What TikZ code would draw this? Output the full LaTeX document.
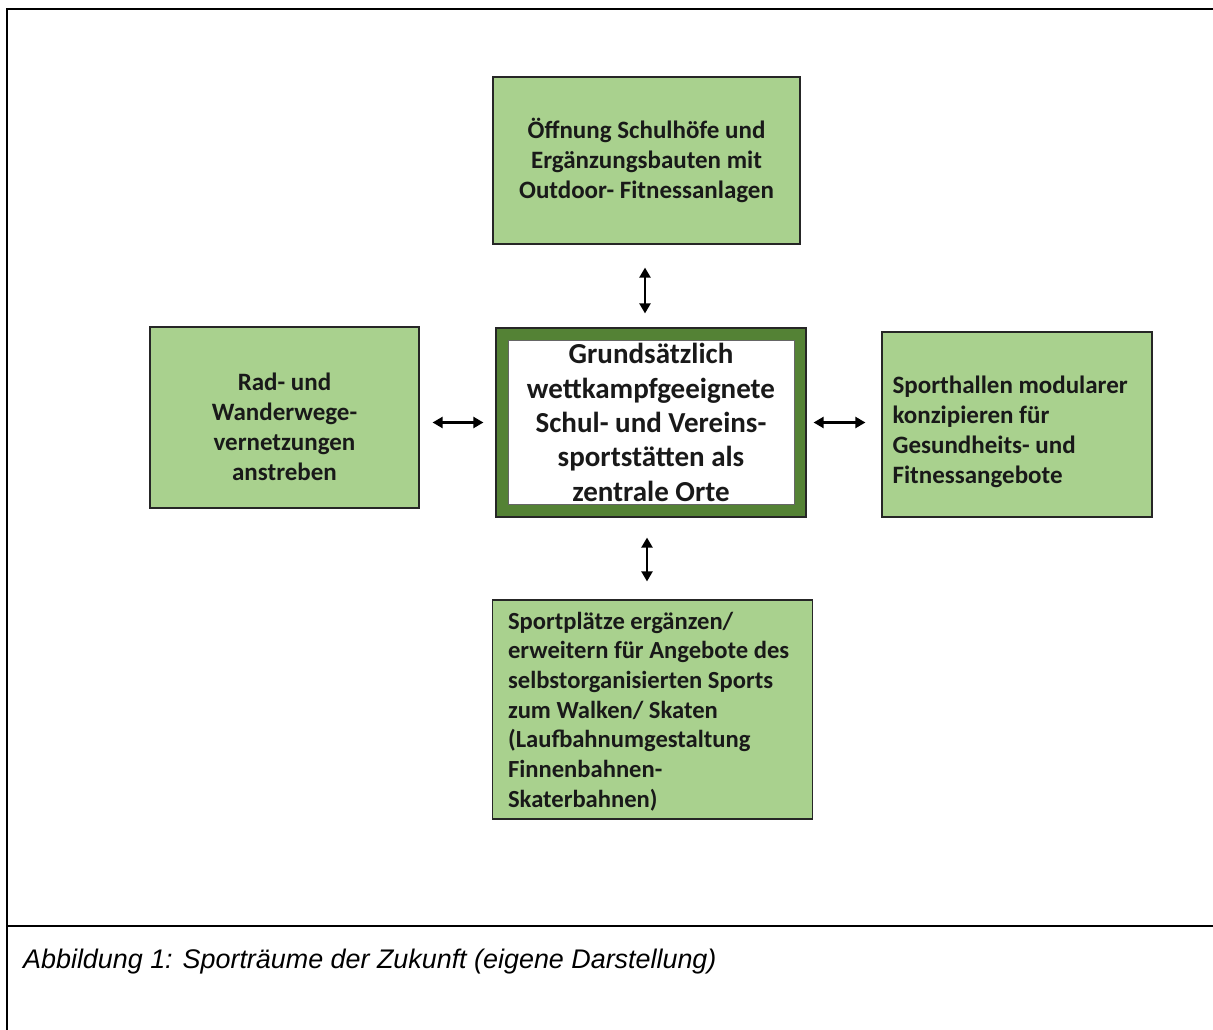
\documentclass[tikz,border=0pt]{standalone}
\usepackage{fontspec}
\setmainfont{Carlito}
\newfontfamily\arialfont{Liberation Sans}
\usetikzlibrary{arrows.meta,calc}
\definecolor{boxgreen}{HTML}{A9D18E}
\definecolor{darkgreen}{HTML}{548235}
\begin{document}
\begin{tikzpicture}[x=1pt,y=-1pt,
  gbox/.style={draw=black!85, line width=1.2pt, fill=boxgreen, inner sep=0pt,
    font=\bfseries\fontsize{25}{30}\selectfont, text=black!90},
  gtext/.style={inner sep=0pt, font=\bfseries\fontsize{25}{30}\selectfont, text=black!90},
  arr/.style={{Triangle[length=10pt,width=11pt]}-{Triangle[length=10pt,width=11pt]}, line width=2.2pt},
  frame/.style={line width=2.6pt, line cap=rect}]
\useasboundingbox (0,0) rectangle (1213,1030);
% frame
\draw[frame] (1213,9) -- (7,9) -- (7,1030);
\draw[frame] (7,926) -- (1213,926);
% boxes
\node[gbox, minimum width=307, minimum height=167, align=center] (top) at (646.5,160.5)
  {Öffnung Schulhöfe und\\Ergänzungsbauten mit\\Outdoor- Fitnessanlagen};
\node[gbox, minimum width=269, minimum height=181] (lbox) at (284.5,417.5) {};
\node[gtext, align=center] (ltext) at ($(lbox.center)+(0,9)$)
  {Rad- und\\Wanderwege-\\vernetzungen\\anstreben};
\node[gbox, minimum width=270, minimum height=185] (rbox) at (1017,424.5) {};
\node[gtext, anchor=west, align=left] (rtext) at ($(rbox.west)+(11,7)$)
  {Sporthallen modularer\\konzipieren für\\Gesundheits- und\\Fitnessangebote};
\node[gbox, minimum width=320, minimum height=219] (bot) at (652.5,709.5) {};
\node[gtext, anchor=west, align=left, font=\bfseries\fontsize{24.6}{29.7}\selectfont] (btext) at ($(bot.west)+(16,2)$)
  {Sportplätze ergänzen/\\erweitern für Angebote des\\selbstorganisierten Sports\\zum Walken/ Skaten\\(Laufbahnumgestaltung\\Finnenbahnen-\\Skaterbahnen)};
% center box
\node[draw=black!85, line width=1.2pt, fill=darkgreen, minimum width=310, minimum height=189] (cbox) at (651,422.5) {};
\node[draw=black!60, line width=0.6pt, fill=white, minimum width=286, minimum height=164, inner sep=0pt,
  align=center, font=\bfseries\fontsize{29}{34.3}\selectfont, text=black!90] (cin) at (cbox.center)
  {Grundsätzlich\\wettkampfgeeignete\\Schul- und Vereins-\\sportstätten als\\zentrale Orte};
% arrows
\coordinate (ta) at ($(top.south)+(-1.5,23)$);
\coordinate (tb) at ($(ta |- cbox.north)+(0,-14)$);
\draw[arr] (ta) -- (tb);
\coordinate (la) at ($(lbox.east |- cbox.west)+(13,0)$);
\coordinate (lb) at ($(cbox.west)+(-12,0)$);
\draw[arr] (la) -- (lb);
\coordinate (ra) at ($(cbox.east)+(7,0)$);
\coordinate (rb) at ($(rbox.west |- cbox.east)+(-16,0)$);
\draw[arr] (ra) -- (rb);
\coordinate (ba) at ($(cbox.south)+(-4,20)$);
\coordinate (bb) at ($(ba |- bot.north)+(0,-18)$);
\draw[arr] (ba) -- (bb);
% caption
\node[anchor=base west, inner sep=0pt, font=\arialfont\itshape\fontsize{26.9}{30}\selectfont, text=black] (cap) at (23,968)
  {Abbildung 1: Sporträume der Zukunft (eigene Darstellung)};
\end{tikzpicture}
\end{document}
